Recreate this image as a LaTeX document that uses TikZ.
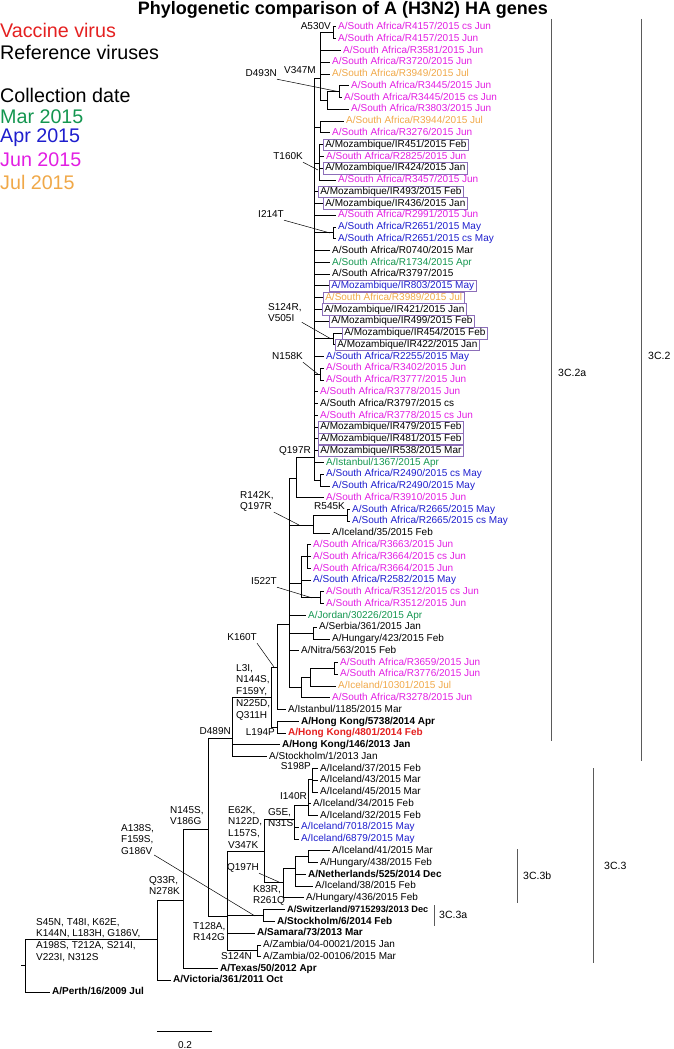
\documentclass[tikz,border=0pt]{standalone}
\usepackage{fontspec}
\setmainfont{Liberation Sans}
\definecolor{cjun}{RGB}{226,30,226}
\definecolor{cjul}{RGB}{240,168,72}
\definecolor{cmay}{RGB}{30,30,205}
\definecolor{capr}{RGB}{20,150,80}
\definecolor{cvac}{RGB}{228,32,32}
\definecolor{cbox}{RGB}{140,110,185}
\definecolor{cgr}{RGB}{90,90,90}
\newcommand\lff{\fontsize{10}{11.77}\selectfont}
\newcommand\lffb{\fontsize{10}{11.77}\selectfont\bfseries}
\newcommand\lffs{\fontsize{9.2}{11.77}\selectfont\bfseries}
\newcommand\yy[1]{{27+11.77*(#1)}}
\newcommand\leaf[6]{\node[lfs,#5] (#1) at (#3,\yy{#4}) {#6};\draw[br] (#2) |- ([xshift=-2pt]#1.west);}
\newcommand\bleaf[6]{\node[lfs,bx,#5] (#1) at (#3,\yy{#4}) {#6};\draw[br] (#2) |- (#1.west);}
\tikzset{
 br/.style={line width=1pt},
 ann/.style={line width=0.5pt},
 lfs/.style={anchor=west, inner sep=0pt, font=\lff, text height=7.6pt, text depth=2.4pt},
 bx/.style={draw=cbox, line width=0.6pt, inner xsep=2pt, inner ysep=0.8pt},
 pjun/.style={text=cjun}, pjul/.style={text=cjul}, pmay/.style={text=cmay},
 papr/.style={text=capr}, pvac/.style={text=cvac}, pbf/.style={font=\lffb},
 pbs/.style={font=\lffs},
 mut/.style={inner sep=0pt, font=\lff, text height=7.6pt, text depth=2.4pt},
 mutm/.style={inner sep=0pt, font=\lff, align=left, anchor=north west},
 lgd/.style={anchor=west, inner sep=0pt, font=\fontsize{19.7}{22}\selectfont},
 clab/.style={anchor=west, inner sep=0pt, font=\fontsize{10.5}{12}\selectfont},
 brk/.style={cgr, line width=1pt}
}
\begin{document}
\begin{tikzpicture}[x=1pt,y=-1pt]
\useasboundingbox (0,0) rectangle (674,1049);
% title and legend
\node[font=\fontsize{18}{20}\selectfont\bfseries, inner sep=0pt] (title) at (343,10) {Phylogenetic comparison of A (H3N2) HA genes};
\node[lgd,text=cvac] (lg1) at (0,30) {Vaccine virus};
\node[lgd] (lg2) at (0,52) {Reference viruses};
\node[lgd] (lg3) at (0,95) {Collection date};
\node[lgd,text=capr] (lg4) at (0,117) {Mar 2015};
\node[lgd,text=cmay] (lg5) at (0,138) {Apr 2015};
\node[lgd,text=cjun] (lg6) at (0,160) {Jun 2015};
\node[lgd,text=cjul] (lg7) at (0,182) {Jul 2015};
% internal nodes
\coordinate (TR) at (314,457);
\coordinate (T1) at (320,78);
\coordinate (C4157) at (333,\yy{0.5});
\coordinate (N327) at (327,100);
\coordinate (C3445) at (339,\yy{5.5});
\coordinate (C3944) at (320,\yy{8.5});
\coordinate (G160) at (319,163);
\coordinate (C2651) at (333,\yy{17.5});
\coordinate (C454) at (333,\yy{26.5});
\coordinate (C3402) at (320,\yy{29.5});
\coordinate (C2490) at (320,480);
\coordinate (QN) at (296,478);
\coordinate (N289) at (289,624);
\coordinate (C545) at (313,525);
\coordinate (C2665) at (347,\yy{41.5});
\coordinate (G1) at (301,583);
\coordinate (C3663) at (307,\yy{45});
\coordinate (C3512) at (320,\yy{48.5});
\coordinate (CSer) at (313,\yy{51.5});
\coordinate (Nb) at (301,687);
\coordinate (Na) at (310,677);
\coordinate (C3659) at (334,\yy{54.5});
\coordinate (K) at (277,667);
\coordinate (J) at (271,697);
\coordinate (C194) at (277,\yy{59.5});
\coordinate (L3) at (232,738);
\coordinate (C) at (208,829);
\coordinate (D) at (227,916);
\coordinate (E) at (264,851);
\coordinate (G5) at (294,819);
\coordinate (I) at (308,805);
\coordinate (S198) at (312,779);
\coordinate (F) at (283,882);
\coordinate (G) at (295,868);
\coordinate (H) at (308,\yy{70.5});
\coordinate (CSw) at (263,\yy{75.5});
\coordinate (CZa) at (257,\yy{78.5});
\coordinate (B) at (183,900);
\coordinate (A) at (157,939);
\coordinate (R) at (25,965);
\coordinate (R0) at (21,965);
% internal edges
\foreach \p/\c in {TR/T1,TR/C3944,TR/G160,TR/C2651,TR/C454,TR/C3402,TR/C2490,
  T1/C4157,T1/N327,N327/C3445,QN/TR,N289/QN,N289/C545,N289/G1,N289/CSer,N289/Nb,
  C545/C2665,G1/C3663,G1/C3512,Nb/Na,Na/C3659,K/N289,J/K,J/C194,L3/J,C/L3,C/D,
  D/E,D/CSw,D/CZa,E/G5,E/F,G5/I,I/S198,F/G,G/H,B/C,A/B,R/A}
  {\draw[br] (\p) |- (\c);}
\draw[br] (R0) -- (R);
% leaves
\leaf{l0}{C4157}{338}{0}{pjun}{A/South Africa/R4157/2015 cs Jun}
\leaf{l1}{C4157}{338}{1}{pjun}{A/South Africa/R4157/2015 Jun}
\leaf{l2}{T1}{343}{2}{pjun}{A/South Africa/R3581/2015 Jun}
\leaf{l3}{T1}{332}{3}{pjun}{A/South Africa/R3720/2015 Jun}
\leaf{l4}{T1}{332}{4}{pjul}{A/South Africa/R3949/2015 Jul}
\leaf{l5}{C3445}{351}{5}{pjun}{A/South Africa/R3445/2015 Jun}
\leaf{l6}{C3445}{344}{6}{pjun}{A/South Africa/R3445/2015 cs Jun}
\leaf{l7}{N327}{351}{7}{pjun}{A/South Africa/R3803/2015 Jun}
\leaf{l8}{C3944}{346}{8}{pjul}{A/South Africa/R3944/2015 Jul}
\leaf{l9}{C3944}{332}{9}{pjun}{A/South Africa/R3276/2015 Jun}
\bleaf{l10}{G160}{323}{10}{}{A/Mozambique/IR451/2015 Feb}
\leaf{l11}{G160}{326}{11}{pjun}{A/South Africa/R2825/2015 Jun}
\bleaf{l12}{G160}{323}{12}{}{A/Mozambique/IR424/2015 Jan}
\leaf{l13}{G160}{338}{13}{pjun}{A/South Africa/R3457/2015 Jun}
\bleaf{l14}{TR}{318}{14}{}{A/Mozambique/IR493/2015 Feb}
\bleaf{l15}{TR}{323}{15}{}{A/Mozambique/IR436/2015 Jan}
\leaf{l16}{TR}{338}{16}{pjun}{A/South Africa/R2991/2015 Jun}
\leaf{l17}{C2651}{338}{17}{pmay}{A/South Africa/R2651/2015 May}
\leaf{l18}{C2651}{338}{18}{pmay}{A/South Africa/R2651/2015 cs May}
\leaf{l19}{TR}{332}{19}{}{A/South Africa/R0740/2015 Mar}
\leaf{l20}{TR}{332}{20}{papr}{A/South Africa/R1734/2015 Apr}
\leaf{l21}{TR}{332}{21}{}{A/South Africa/R3797/2015}
\bleaf{l22}{TR}{329}{22}{pmay}{A/Mozambique/IR803/2015 May}
\bleaf{l23}{TR}{323}{23}{pjul}{A/South Africa/R3989/2015 Jul}
\bleaf{l24}{TR}{322}{24}{}{A/Mozambique/IR421/2015 Jan}
\bleaf{l25}{TR}{329}{25}{}{A/Mozambique/IR499/2015 Feb}
\bleaf{l26}{C454}{342}{26}{}{A/Mozambique/IR454/2015 Feb}
\bleaf{l27}{C454}{335}{27}{}{A/Mozambique/IR422/2015 Jan}
\leaf{l28}{TR}{326}{28}{pmay}{A/South Africa/R2255/2015 May}
\leaf{l29}{C3402}{326}{29}{pjun}{A/South Africa/R3402/2015 Jun}
\leaf{l30}{C3402}{326}{30}{pjun}{A/South Africa/R3777/2015 Jun}
\leaf{l31}{TR}{320}{31}{pjun}{A/South Africa/R3778/2015 Jun}
\leaf{l32}{TR}{320}{32}{}{A/South Africa/R3797/2015 cs}
\leaf{l33}{TR}{320}{33}{pjun}{A/South Africa/R3778/2015 cs Jun}
\bleaf{l34}{TR}{318}{34}{}{A/Mozambique/IR479/2015 Feb}
\bleaf{l35}{TR}{318}{35}{}{A/Mozambique/IR481/2015 Feb}
\bleaf{l36}{TR}{318}{36}{}{A/Mozambique/IR538/2015 Mar}
\leaf{l37}{TR}{326}{37}{papr}{A/Istanbul/1367/2015 Apr}
\leaf{l38}{C2490}{326}{38}{pmay}{A/South Africa/R2490/2015 cs May}
\leaf{l39}{C2490}{332}{39}{pmay}{A/South Africa/R2490/2015 May}
\leaf{l40}{QN}{326}{40}{pjun}{A/South Africa/R3910/2015 Jun}
\leaf{l41}{C2665}{352}{41}{pmay}{A/South Africa/R2665/2015 May}
\leaf{l42}{C2665}{352}{42}{pmay}{A/South Africa/R2665/2015 cs May}
\leaf{l43}{C545}{332}{43}{}{A/Iceland/35/2015 Feb}
\leaf{l44}{C3663}{313}{44}{pjun}{A/South Africa/R3663/2015 Jun}
\leaf{l45}{C3663}{313}{45}{pjun}{A/South Africa/R3664/2015 cs Jun}
\leaf{l46}{C3663}{313}{46}{pjun}{A/South Africa/R3664/2015 Jun}
\leaf{l47}{G1}{313}{47}{pmay}{A/South Africa/R2582/2015 May}
\leaf{l48}{C3512}{326}{48}{pjun}{A/South Africa/R3512/2015 cs Jun}
\leaf{l49}{C3512}{326}{49}{pjun}{A/South Africa/R3512/2015 Jun}
\leaf{l50}{N289}{308}{50}{papr}{A/Jordan/30226/2015 Apr}
\leaf{l51}{CSer}{319}{51}{}{A/Serbia/361/2015 Jan}
\leaf{l52}{CSer}{332}{52}{}{A/Hungary/423/2015 Feb}
\leaf{l53}{N289}{301}{53}{}{A/Nitra/563/2015 Feb}
\leaf{l54}{C3659}{340}{54}{pjun}{A/South Africa/R3659/2015 Jun}
\leaf{l55}{C3659}{340}{55}{pjun}{A/South Africa/R3776/2015 Jun}
\leaf{l56}{Na}{338}{56}{pjul}{A/Iceland/10301/2015 Jul}
\leaf{l57}{Nb}{332}{57}{pjun}{A/South Africa/R3278/2015 Jun}
\leaf{l58}{K}{288}{58}{}{A/Istanbul/1185/2015 Mar}
\leaf{l59}{C194}{301}{59}{pbf}{A/Hong Kong/5738/2014 Apr}
\leaf{l60}{C194}{288}{60}{pbf,pvac}{A/Hong Kong/4801/2014 Feb}
\leaf{l61}{L3}{282}{61}{pbf}{A/Hong Kong/146/2013 Jan}
\leaf{l62}{L3}{269}{62}{}{A/Stockholm/1/2013 Jan}
\leaf{l63}{S198}{320}{63}{}{A/Iceland/37/2015 Feb}
\leaf{l64}{S198}{320}{64}{}{A/Iceland/43/2015 Mar}
\leaf{l65}{S198}{320}{65}{}{A/Iceland/45/2015 Mar}
\leaf{l66}{I}{313}{66}{}{A/Iceland/34/2015 Feb}
\leaf{l67}{I}{320}{67}{}{A/Iceland/32/2015 Feb}
\leaf{l68}{G5}{301}{68}{pmay}{A/Iceland/7018/2015 May}
\leaf{l69}{G5}{301}{69}{pmay}{A/Iceland/6879/2015 May}
\leaf{l70}{H}{332}{70}{}{A/Iceland/41/2015 Mar}
\leaf{l71}{H}{320}{71}{}{A/Hungary/438/2015 Feb}
\leaf{l72}{G}{308}{72}{pbf}{A/Netherlands/525/2014 Dec}
\leaf{l73}{G}{315}{73}{}{A/Iceland/38/2015 Feb}
\leaf{l74}{F}{306}{74}{}{A/Hungary/436/2015 Feb}
\leaf{l75}{CSw}{287}{75}{pbs}{A/Switzerland/9715293/2013 Dec}
\leaf{l76}{CSw}{277}{76}{pbf}{A/Stockholm/6/2014 Feb}
\leaf{l77}{D}{257}{77}{pbf}{A/Samara/73/2013 Mar}
\leaf{l78}{CZa}{263}{78}{}{A/Zambia/04-00021/2015 Jan}
\leaf{l79}{CZa}{263}{79}{}{A/Zambia/02-00106/2015 Mar}
\leaf{l80}{B}{220}{80}{pbf}{A/Texas/50/2012 Apr}
\leaf{l81}{A}{173}{81}{pbf}{A/Victoria/361/2011 Oct}
\leaf{l82}{R}{52}{82}{pbf}{A/Perth/16/2009 Jul}
% mutation labels
\node[mut,anchor=east] (mA530V) at (331,27) {A530V};
\node[mut,anchor=east] (mV347M) at (316,71) {V347M};
\node[mut,anchor=east] (mD493N) at (277,74) {D493N};
\draw[ann] (mD493N.south east) -- (C3445);
\node[mut,anchor=east] (mT160K) at (303,157) {T160K};
\coordinate (aT160K) at (318,170);
\draw[ann] (mT160K.south east) -- (aT160K);
\node[mut,anchor=east] (mI214T) at (284,215) {I214T};
\coordinate (aI214T) at (330,\yy{17.5});
\draw[ann] (mI214T.south east) -- (aI214T);
\node[mutm] (mS124R) at (268,303) {S124R,\\V505I};
\coordinate (aS124R) at (331,\yy{26.5});
\draw[ann] (mS124R.south east) -- (aS124R);
\node[mut,anchor=east] (mN158K) at (303,357) {N158K};
\coordinate (aN158K) at (318,\yy{29.5});
\draw[ann] (mN158K.south east) -- (aN158K);
\node[mut,anchor=east] (mQ197R) at (311,451) {Q197R};
\node[mutm] (mR142K) at (240,491) {R142K,\\Q197R};
\coordinate (aR142K) at (299,525);
\draw[ann] (mR142K.south east) -- (aR142K);
\node[mut,anchor=east] (mR545K) at (345,507) {R545K};
\node[mut,anchor=east] (mI522T) at (277,582) {I522T};
\coordinate (aI522T) at (312,\yy{48.5});
\draw[ann] (mI522T.south east) -- (aI522T);
\node[mut,anchor=east] (mK160T) at (257,638) {K160T};
\coordinate (aK160T) at (274,667);
\draw[ann] (mK160T.south east) -- (aK160T);
\node[mutm] (mL3I) at (236,664) {L3I,\\N144S,\\F159Y,\\N225D,\\Q311H};
\node[mut,anchor=east] (mL194P) at (275,733) {L194P};
\node[mut,anchor=east] (mD489N) at (231,732) {D489N};
\node[mut,anchor=east] (mS198P) at (311,767) {S198P};
\node[mut,anchor=east] (mI140R) at (307,797) {I140R};
\node[mutm] (mG5E) at (268,808) {G5E,\\N31S};
\node[mutm] (mE62K) at (228,806) {E62K,\\N122D,\\L157S,\\V347K};
\node[mut,anchor=east] (mQ197H) at (259,868) {Q197H};
\coordinate (aQ197H) at (279,882);
\draw[ann] (mQ197H.south east) -- (aQ197H);
\node[mutm] (mK83R) at (253,885) {K83R,\\R261Q};
\node[mutm] (mA138S) at (121,824) {A138S,\\F159S,\\G186V};
\coordinate (aA138S) at (255,916);
\draw[ann] (mA138S.south east) -- (aA138S);
\node[mutm] (mT128A) at (193,922) {T128A,\\R142G};
\node[mut,anchor=east] (mS124N) at (252,957) {S124N};
\node[mutm] (mN145S) at (170,806) {N145S,\\V186G};
\node[mutm] (mQ33R) at (149,876) {Q33R,\\N278K};
\node[mutm] (mS45N) at (36,918) {S45N, T48I, K62E,\\K144N, L183H, G186V,\\A198S, T212A, S214I,\\V223I, N312S};
% clade brackets
\draw[brk] (551,19) -- (551,741);
\node[clab] (k1) at (558,373) {3C.2a};
\draw[brk] (641,19) -- (641,761);
\node[clab] (k2) at (648,356) {3C.2};
\draw[brk] (593,768) -- (593,963);
\node[clab] (k3) at (604,866) {3C.3};
\draw[brk] (517,849) -- (517,903);
\node[clab] (k4) at (523,876) {3C.3b};
\draw[brk] (434,905) -- (434,926);
\node[clab] (k5) at (439,915) {3C.3a};
% scale bar
\draw[br] (157,1031) -- (212,1031);
\node[font=\lff, inner sep=0pt] (sb) at (185,1045) {0.2};
\end{tikzpicture}
\end{document}
